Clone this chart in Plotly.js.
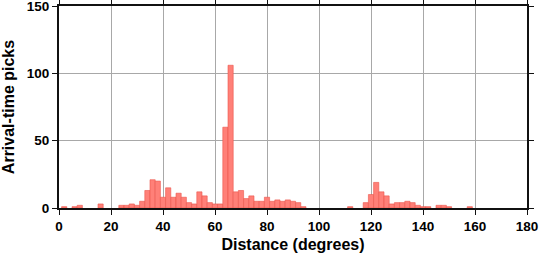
<!DOCTYPE html>
<html>
<head>
<meta charset="utf-8">
<script src="https://cdn.plot.ly/plotly-3.0.1.min.js"></script>
<style>html,body{margin:0;padding:0;background:#fff;}#chart{width:539px;height:258px;}</style>
</head>
<body>
<div id="chart"></div>
<script>
// Bin centres (degrees) of non-empty 2-degree bins and their pick counts
const distances = [2,6,8,16,24,26,28,30,32,34,36,38,40,42,44,46,48,50,52,54,56,58,60,62,64,66,68,70,72,74,76,78,80,82,84,86,88,90,92,94,112,118,120,122,124,126,128,130,132,134,136,138,140,142,146,148,150,158];
const picks     = [1,1,2,3,2,2,3,2,5,13,21,20,8,15,8,11,8,4,3,12,9,4,3,3,60,106,12,13,7,9,5,5,8,5,6,5,6,5,4,1,1,4,10,19,12,9,3,4,4,5,4,2,1,1,2,2,1,1];
const xTicks = [0,20,40,60,80,100,120,140,160,180];
const yTicks = [0,50,100,150];
const binWidth = 2;

const font = {family: 'Liberation Sans, Arial, sans-serif', color: '#000'};

const trace = {
  type: 'bar',
  x: distances,
  y: picks,
  width: distances.map(() => binWidth),
  marker: {color: 'rgb(255,128,120)', line: {color: 'rgb(235,85,75)', width: 0.6}},
  hoverinfo: 'x+y'
};

const axisCommon = {
  showline: true, linewidth: 2, linecolor: '#111', mirror: 'ticks',
  ticks: 'outside', ticklen: 5, tickwidth: 1, tickcolor: '#111',
  showgrid: true, gridcolor: '#a8a8a8', gridwidth: 1,
  zeroline: false,
  ticklabeloverflow: 'allow',
  tickfont: Object.assign({}, font, {size: 13.5, weight: 'bold'})
};

const layout = {
  width: 539, height: 258,
  margin: {l: 59, r: 12, t: 6, b: 50},
  paper_bgcolor: '#fff', plot_bgcolor: '#fff',
  showlegend: false,
  bargap: 0,
  xaxis: Object.assign({}, axisCommon, {
    range: [0, 180], tickvals: xTicks, ticktext: xTicks.map(String),
    title: {text: 'Distance (degrees)', font: Object.assign({}, font, {size: 16, weight: 'bold'}), standoff: 6}
  }),
  yaxis: Object.assign({}, axisCommon, {
    range: [0, 150], tickvals: yTicks, ticktext: yTicks.map(String),
    title: {text: 'Arrival-time picks', font: Object.assign({}, font, {size: 16, weight: 'bold'}), standoff: 8}
  })
};

Plotly.newPlot('chart', [trace], layout, {displayModeBar: false, staticPlot: true});
</script>
</body>
</html>
